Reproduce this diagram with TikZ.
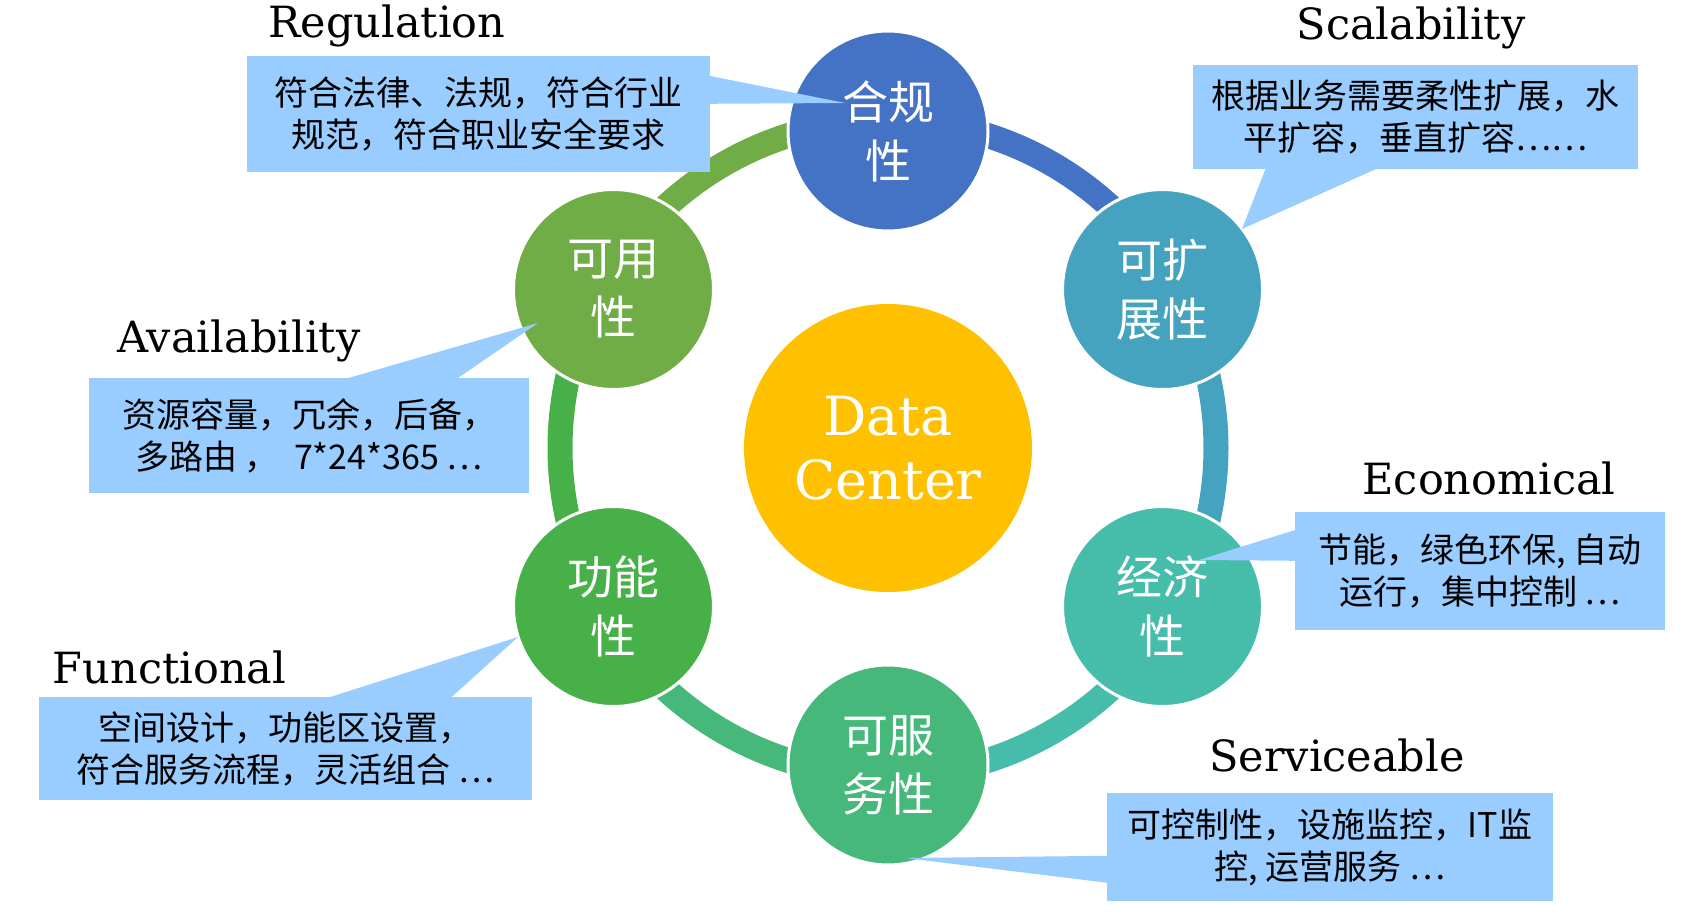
\documentclass[tikz,border=0pt]{standalone}
\usepackage{fontspec}
\newfontfamily\cjkfont{Noto Sans CJK SC}
\newfontfamily\dvserif{DejaVu Serif}
\usetikzlibrary{calc}
\definecolor{cReg}{HTML}{4472C4}
\definecolor{cScal}{HTML}{46A3BF}
\definecolor{cEcon}{HTML}{46BDAA}
\definecolor{cServ}{HTML}{45B87A}
\definecolor{cFunc}{HTML}{47B048}
\definecolor{cAvail}{HTML}{70AD47}
\definecolor{cCenter}{HTML}{FFC000}
\definecolor{cBox}{HTML}{99CCFF}
\begin{document}
\begin{tikzpicture}[x=1pt,y=-1pt,
  ringarc/.style={line width=25pt},
  sat/.style={circle, minimum size=200pt, inner sep=0pt, draw=white, line width=3pt},
  satlabel/.style={text=white, font=\cjkfont\fontsize{46}{59}\selectfont, align=center, inner sep=0pt},
  callout/.style={fill=cBox, inner sep=0pt, align=center, font=\cjkfont\fontsize{34}{42}\selectfont},
  pointer/.style={fill=cBox},
  titletext/.style={font=\dvserif\fontsize{43}{48}\selectfont, anchor=base, inner sep=0pt},
]
\useasboundingbox (0,0) rectangle (1682,918);
\coordinate (c) at (888,448);
% ring arcs
\draw[ringarc, cReg]   ($(c)+(-90:328)$) arc[start angle=-90, end angle=-30, radius=328];
\draw[ringarc, cScal]  ($(c)+(-30:328)$) arc[start angle=-30, end angle=30, radius=328];
\draw[ringarc, cEcon]  ($(c)+(30:328)$)  arc[start angle=30, end angle=90, radius=328];
\draw[ringarc, cServ]  ($(c)+(90:328)$)  arc[start angle=90, end angle=150, radius=328];
\draw[ringarc, cFunc]  ($(c)+(150:328)$) arc[start angle=150, end angle=210, radius=328];
\draw[ringarc, cAvail] ($(c)+(210:328)$) arc[start angle=210, end angle=270, radius=328];
% center
\node[circle, fill=cCenter, minimum size=288pt, inner sep=0pt, text=white, align=center,
      font=\dvserif\fontsize{54}{64}\selectfont] (dc) at (c) {Data\\Center};
% satellites
\node[sat, fill=cReg]   (sReg)   at ($(c)+(-90:317)$) {};
\node[sat, fill=cScal]  (sScal)  at ($(c)+(-30:317)$) {};
\node[sat, fill=cEcon]  (sEcon)  at ($(c)+(30:317)$) {};
\node[sat, fill=cServ]  (sServ)  at ($(c)+(90:317)$) {};
\node[sat, fill=cFunc]  (sFunc)  at ($(c)+(150:317)$) {};
\node[sat, fill=cAvail] (sAvail) at ($(c)+(210:317)$) {};
% callout boxes
\node[callout, minimum width=463pt, minimum height=116pt] (bReg) at (478.5,114)
  {符合法律、法规，符合行业\\规范，符合职业安全要求};
\node[callout, minimum width=445pt, minimum height=104pt] (bScal) at (1415.5,117)
  {根据业务需要柔性扩展，水\\平扩容，垂直扩容……};
\node[callout, minimum width=440pt, minimum height=115pt] (bAvail) at (309,435.5)
  {资源容量，冗余，后备，\\多路由 ，\ \ 7*24*365 …};
\node[callout, minimum width=370pt, minimum height=118pt] (bEcon) at (1480,571)
  {节能，绿色环保, 自动\\运行，集中控制 …};
\node[callout, minimum width=493pt, minimum height=103pt] (bFunc) at (285.5,748.5)
  {空间设计，功能区设置，\\符合服务流程，灵活组合 …};
\node[callout, minimum width=446pt, minimum height=108pt] (bServ) at (1330,847)
  {可控制性，设施监控，IT监\\控, 运营服务 …};
% pointer tips
\coordinate (tReg) at (845,103);
\coordinate (tScal) at (1242,229);
\coordinate (tAvail) at (538,323);
\coordinate (tEcon) at (1199,560);
\coordinate (tFunc) at (518,637);
\coordinate (tServ) at (905,858);
\fill[pointer] ($(bReg.north east)+(-1,20)$) -- (tReg) -- ($(bReg.north east)+(-1,48)$) -- cycle;
\fill[pointer] ($(bScal.south west)+(73,-1)$) -- (tScal) -- ($(bScal.south west)+(185,-1)$) -- cycle;
\fill[pointer] ($(bAvail.north west)+(257,1)$) -- (tAvail) -- ($(bAvail.north west)+(368,1)$) -- cycle;
\fill[pointer] ($(bEcon.north west)+(1,18)$) -- (tEcon) -- ($(bEcon.north west)+(1,49)$) -- cycle;
\fill[pointer] ($(bFunc.north west)+(289,1)$) -- (tFunc) -- ($(bFunc.north west)+(412,1)$) -- cycle;
\fill[pointer] ($(bServ.north west)+(1,63)$) -- (tServ) -- ($(bServ.north west)+(1,90)$) -- cycle;
% satellite labels
\node[satlabel] (lReg)   at (sReg)   {合规\\性};
\node[satlabel] (lScal)  at (sScal)  {可扩\\展性};
\node[satlabel] (lEcon)  at (sEcon)  {经济\\性};
\node[satlabel] (lServ)  at (sServ)  {可服\\务性};
\node[satlabel] (lFunc)  at (sFunc)  {功能\\性};
\node[satlabel] (lAvail) at (sAvail) {可用\\性};
% titles
\node[titletext] (ttReg)   at (387,37)    {Regulation};
\node[titletext] (ttScal)  at (1411,39)   {Scalability};
\node[titletext] (ttAvail) at (239,352)   {Availability};
\node[titletext] (ttEcon)  at (1489,494)  {Economical};
\node[titletext] (ttFunc)  at (169.5,683) {Functional};
\node[titletext] (ttServ)  at (1337,771)  {Serviceable};
\end{tikzpicture}
\end{document}
